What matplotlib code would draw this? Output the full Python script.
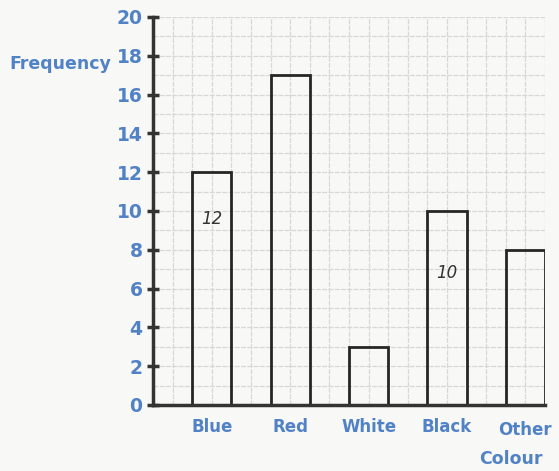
import matplotlib
matplotlib.use("Agg")
import matplotlib.pyplot as plt
import numpy as np

categories = ["Blue", "Red", "White", "Black", "Other"]
frequency = [12, 17, 3, 10, 8]
yticks = [0, 2, 4, 6, 8, 10, 12, 14, 16, 18, 20]
notes = {"Blue": "12", "Black": "10"}

blue = "#5282c6"
fig = plt.figure(figsize=(5.59, 4.71), dpi=100)
fig.patch.set_facecolor("#f8f8f6")
ax = fig.add_axes([153/559, 1-405/471, 392/559, 388/471])
ax.set_facecolor("#f8f8f6")

positions = np.arange(len(categories)) * 4 + 3
ax.bar(positions, frequency, width=2, facecolor="none", edgecolor="#262626", linewidth=2, zorder=3)

ax.set_xlim(0, 20)
ax.set_ylim(0, 20)
ax.set_xticks(np.arange(0, 21, 1), minor=True)
ax.set_yticks(np.arange(0, 21, 1), minor=True)
ax.grid(which="both", color="#d8d8d8", linewidth=0.9, linestyle=(0, (4, 1)), zorder=0)
ax.tick_params(which="minor", length=0)

ax.set_yticks(yticks)
ax.set_yticklabels([str(v) for v in yticks])
ax.set_xticks(positions)
ax.set_xticklabels(categories)
ax.tick_params(axis="y", direction="inout", length=9, width=2.5, color="#333333",
               labelsize=13.5, labelcolor=blue, pad=3)
ax.tick_params(axis="x", length=0, labelsize=12, labelcolor=blue, pad=9)
for lab in ax.get_xticklabels() + ax.get_yticklabels():
    lab.set_fontweight("semibold")
ax.get_xticklabels()[-1].set_y(-0.01)

for s in ["top", "right"]:
    ax.spines[s].set_visible(False)
for s in ["left", "bottom"]:
    ax.spines[s].set_linewidth(2.5)
    ax.spines[s].set_color("#333333")
    ax.spines[s].set_zorder(4)

fig.text(60/559, 1-64/471, "Frequency", color=blue, fontsize=12.5, fontweight="semibold",
         ha="center", va="center")
fig.text(511/559, 1-459/471, "Colour", color=blue, fontsize=12.5, fontweight="semibold",
         ha="center", va="center")

for cat, txt in notes.items():
    i = categories.index(cat)
    yv = {"Blue": 9.6, "Black": 6.8}[cat]
    ax.text(positions[i], yv, txt, ha="center", va="center", fontsize=12,
            color="#333333", style="italic", zorder=5)

fig.savefig("out.png", dpi=100, facecolor=fig.get_facecolor())
